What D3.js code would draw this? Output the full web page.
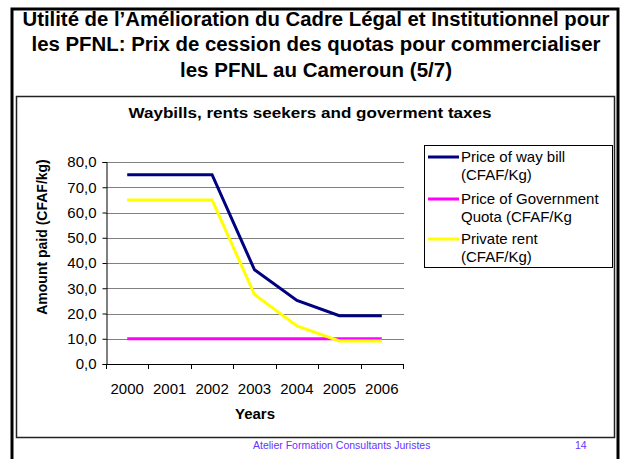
<!DOCTYPE html>
<html>
<head>
<meta charset="utf-8">
<script src="https://cdn.jsdelivr.net/npm/d3@7"></script>
<style>
  body { margin: 0; background: #fff; }
  text { font-family: "Liberation Sans", Arial, sans-serif; }
</style>
</head>
<body>
<script>
var years = ["2000", "2001", "2002", "2003", "2004", "2005", "2006"];
var wayBill = [75, 75, 75, 37.3, 25.2, 19.1, 19.1];
var govQuota = [10, 10, 10, 10, 10, 10, 10];
var privateRent = [65, 65, 65, 27.5, 15.1, 9.1, 9.1];
var yTicks = [0, 10, 20, 30, 40, 50, 60, 70, 80];
var seriesNames = [["Price of way bill", "(CFAF/Kg)"], ["Price of Government", "Quota (CFAF/Kg"], ["Private rent", "(CFAF/Kg)"]];
var seriesColors = ["#000080", "#ff00ff", "#ffff00"];
var titleLines = ["Utilité de l\u2019Amélioration du Cadre Légal et Institutionnel pour",
                  "les PFNL: Prix de cession des quotas pour commercialiser",
                  "les PFNL au Cameroun (5/7)"];

var w = 621, h = 459;
var svg = d3.select("body").append("svg")
    .attr("width", w)
    .attr("height", h);

// slide frame
svg.append("rect")
    .attr("x", 12).attr("y", 9)
    .attr("width", 606).attr("height", 480)
    .attr("fill", "none").attr("stroke", "#000").attr("stroke-width", 3);

// slide title
var titleY = [26, 51, 77];
var titleW = [587, 569, 272];
svg.selectAll(".title")
    .data(titleLines)
    .enter()
    .append("text")
    .attr("class", "title")
    .attr("x", 316)
    .attr("y", function(d, i){ return titleY[i]; })
    .attr("text-anchor", "middle")
    .attr("font-size", 19.5)
    .attr("font-weight", "bold")
    .attr("textLength", function(d, i){ return titleW[i]; })
    .attr("lengthAdjust", "spacingAndGlyphs")
    .text(function(d){ return d; });

// chart box
svg.append("rect")
    .attr("x", 16.5).attr("y", 96.5)
    .attr("width", 598).attr("height", 341)
    .attr("fill", "#fff").attr("stroke", "#222").attr("stroke-width", 1.5);

svg.append("text")
    .attr("x", 310).attr("y", 118)
    .attr("text-anchor", "middle")
    .attr("font-size", 14.5)
    .attr("font-weight", "bold")
    .attr("textLength", 363)
    .attr("lengthAdjust", "spacingAndGlyphs")
    .text("Waybills, rents seekers and goverment taxes");

// plot area
var plotLeft = 106, plotRight = 403, plotTop = 162, plotBottom = 364;

var x = d3.scaleBand()
    .domain(years)
    .range([plotLeft, plotRight])
    .padding(0);

var y = d3.scaleLinear()
    .domain([0, 80])
    .range([plotBottom, plotTop]);

// gridlines
svg.selectAll(".grid")
    .data(yTicks.slice(1))
    .enter()
    .append("line")
    .attr("class", "grid")
    .attr("x1", plotLeft).attr("x2", plotRight + 1)
    .attr("y1", function(d){ return Math.round(y(d)) + 0.5; })
    .attr("y2", function(d){ return Math.round(y(d)) + 0.5; })
    .attr("stroke", "#808080");

// y axis
var yAxis = svg.append("g")
    .attr("transform", "translate(" + (plotLeft + 0.5) + ",0)")
    .call(d3.axisLeft(y).tickValues(yTicks).tickSize(4).tickPadding(6)
      .tickFormat(function(d){ return d3.format(".1f")(d).replace(".", ","); }));
yAxis.selectAll("text")
    .attr("font-size", 15)
    .attr("fill", "#000")
    .style("font-family", '"Liberation Sans", Arial, sans-serif');
yAxis.selectAll("line, path").attr("stroke", "#000");

// x axis
var xAxis = svg.append("g")
    .attr("transform", "translate(0," + (plotBottom + 0.5) + ")")
    .call(d3.axisBottom(x).tickSize(0).tickPadding(19));
xAxis.select(".domain").attr("stroke", "#000").attr("d", "M" + plotLeft + ",0H" + plotRight);
xAxis.selectAll("text")
    .attr("font-size", 15)
    .attr("fill", "#000")
    .style("font-family", '"Liberation Sans", Arial, sans-serif');

// category boundary ticks
svg.selectAll(".xtick")
    .data(years.concat([null]))
    .enter()
    .append("line")
    .attr("class", "xtick")
    .attr("x1", function(d, i){ return Math.round(plotLeft + i * x.step()) + 0.5; })
    .attr("x2", function(d, i){ return Math.round(plotLeft + i * x.step()) + 0.5; })
    .attr("y1", plotBottom).attr("y2", plotBottom + 5)
    .attr("stroke", "#000");

// axis titles
svg.append("text")
    .attr("transform", "translate(47,237) rotate(-90)")
    .attr("text-anchor", "middle")
    .attr("font-size", 14)
    .attr("font-weight", "bold")
    .text("Amount paid (CFAF/kg)");

svg.append("text")
    .attr("x", 255).attr("y", 419)
    .attr("text-anchor", "middle")
    .attr("font-size", 15)
    .attr("font-weight", "bold")
    .text("Years");

// series lines
var line = d3.line()
    .x(function(d, i){ return x(years[i]) + x.bandwidth() / 2; })
    .y(function(d){ return y(d); });

svg.selectAll(".series")
    .data([wayBill, govQuota, privateRent])
    .enter()
    .append("path")
    .attr("class", "series")
    .attr("d", line)
    .attr("fill", "none")
    .attr("stroke", function(d, i){ return seriesColors[i]; })
    .attr("stroke-width", 3);

// legend
svg.append("rect")
    .attr("x", 424.5).attr("y", 145.5)
    .attr("width", 188).attr("height", 122)
    .attr("fill", "#fff").attr("stroke", "#000");

var legendY = [157, 199, 239];
var legend = svg.selectAll(".legend")
    .data(seriesNames)
    .enter()
    .append("g")
    .attr("class", "legend")
    .attr("transform", function(d, i){ return "translate(0," + legendY[i] + ")"; });

legend.append("line")
    .attr("x1", 428).attr("x2", 459)
    .attr("y1", 0).attr("y2", 0)
    .attr("stroke", function(d, i){ return seriesColors[i]; })
    .attr("stroke-width", 3);

legend.append("text")
    .attr("x", 461).attr("y", 5)
    .attr("font-size", 15)
    .text(function(d){ return d[0]; });

legend.append("text")
    .attr("x", 461).attr("y", 23)
    .attr("font-size", 15)
    .text(function(d){ return d[1]; });

// footer
svg.append("text")
    .attr("x", 253).attr("y", 449)
    .attr("font-size", 10.5)
    .attr("fill", "#6633ff")
    .text("Atelier Formation Consultants Juristes");

svg.append("text")
    .attr("x", 575).attr("y", 449)
    .attr("font-size", 10.5)
    .attr("fill", "#6633ff")
    .text("14");
</script>
</body>
</html>
